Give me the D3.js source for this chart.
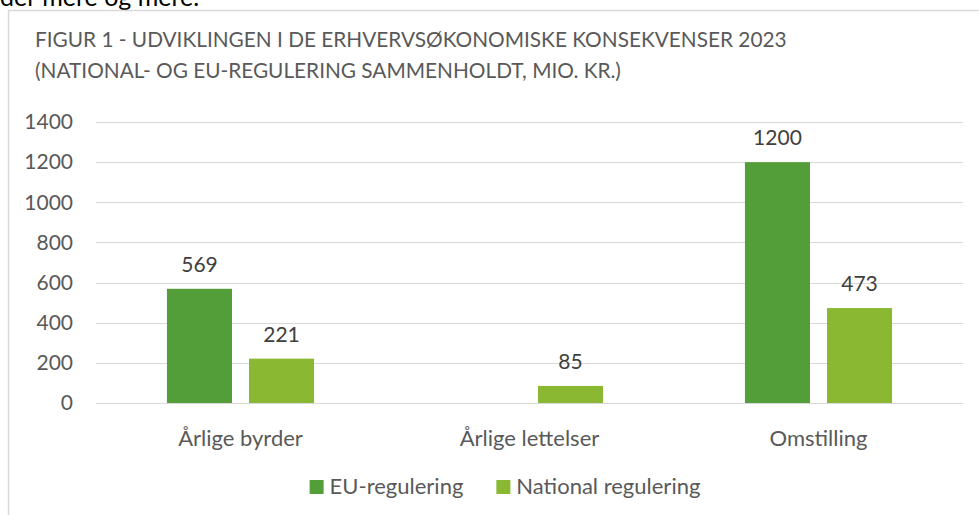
<!DOCTYPE html>
<html>
<head>
<meta charset="utf-8">
<script src="https://cdn.jsdelivr.net/npm/d3@7"></script>
<style>
  body { margin: 0; background: #fff; }
  svg { display: block; font-family: Lato, "Open Sans", sans-serif; }
</style>
</head>
<body>
<svg id="chart"></svg>
<script>
// values (mio. kr.)
var categories = ["Årlige byrder", "Årlige lettelser", "Omstilling"];
var seriesNames = ["EU-regulering", "National regulering"];
var euValues = [569, null, 1200];
var nationalValues = [221, 85, 473];
var yTicks = [0, 200, 400, 600, 800, 1000, 1200, 1400];
var titleLines = [
  "FIGUR 1 - UDVIKLINGEN I DE ERHVERVSØKONOMISKE KONSEKVENSER 2023",
  "(NATIONAL- OG EU-REGULERING SAMMENHOLDT, MIO. KR.)"
];
var colors = ["#549e39", "#8ab833"];

var W = 979, H = 515;
var margin = {top: 122, right: 16, bottom: 112, left: 96};
var width = W - margin.left - margin.right,
    height = H - margin.top - margin.bottom;

var svg = d3.select("#chart").attr("width", W).attr("height", H);

// leftover body text from the page above the figure
svg.append("text")
  .attr("x", 0).attr("y", 6)
  .attr("font-size", 25).attr("fill", "#000")
  .text("der mere og mere.");

// figure frame
svg.append("path")
  .attr("d", "M8.5," + H + "V10.5H" + W)
  .attr("fill", "none").attr("stroke", "#d9d9d9").attr("stroke-width", 1.5);

svg.selectAll(".title").data(titleLines).enter().append("text")
  .attr("class", "title")
  .attr("x", 35).attr("y", function (d, i) { return 47 + i * 31; })
  .attr("font-size", 20.8).attr("fill", "#595959")
  .text(function (d) { return d; });

var g = svg.append("g").attr("transform", "translate(" + margin.left + "," + margin.top + ")");

var x0 = d3.scaleBand().domain(categories).range([0, width])
  .paddingInner(0.491).paddingOuter(0.2455);
var x1 = d3.scaleBand().domain(seriesNames).range([0, x0.bandwidth()])
  .paddingInner(0.207);
var y = d3.scaleLinear().domain([0, 1400]).range([height, 0]);

// gridlines
g.selectAll(".grid").data(yTicks).enter().append("line")
  .attr("x1", 0).attr("x2", width)
  .attr("y1", function (d) { return Math.round(y(d)) + 0.5; })
  .attr("y2", function (d) { return Math.round(y(d)) + 0.5; })
  .attr("stroke", "#d9d9d9").attr("stroke-width", 1.2);

// y axis labels
var yAxis = g.append("g")
  .call(d3.axisLeft(y).tickValues(yTicks).tickFormat(d3.format("d")).tickSize(0).tickPadding(23));
yAxis.select(".domain").remove();
yAxis.selectAll("text").attr("font-size", 21).attr("fill", "#595959")
  .attr("font-family", "Lato, sans-serif");

// x axis labels
var xAxis = g.append("g").attr("transform", "translate(0," + height + ")")
  .call(d3.axisBottom(x0).tickSize(0).tickPadding(27));
xAxis.select(".domain").remove();
xAxis.selectAll("text").attr("font-size", 22).attr("fill", "#595959")
  .attr("font-family", "Lato, sans-serif");

var rows = [];
categories.forEach(function (c, i) {
  rows.push({cat: c, s: seriesNames[0], v: euValues[i], k: 0});
  rows.push({cat: c, s: seriesNames[1], v: nationalValues[i], k: 1});
});
rows = rows.filter(function (d) { return d.v != null; });

g.selectAll(".bar").data(rows).enter().append("rect")
  .attr("class", "bar")
  .attr("x", function (d) { return x0(d.cat) + x1(d.s); })
  .attr("y", function (d) { return y(d.v); })
  .attr("width", x1.bandwidth())
  .attr("height", function (d) { return height - y(d.v); })
  .attr("fill", function (d) { return colors[d.k]; });

g.selectAll(".lbl").data(rows).enter().append("text")
  .attr("class", "lbl")
  .attr("x", function (d) { return x0(d.cat) + x1(d.s) + x1.bandwidth() / 2; })
  .attr("y", function (d) { return y(d.v) - 17; })
  .attr("text-anchor", "middle")
  .attr("font-size", 21).attr("fill", "#404040")
  .text(function (d) { return d.v; });

// legend, centred under the plot
var legend = svg.append("g");
var lx = 0;
seriesNames.forEach(function (s, i) {
  var it = legend.append("g").attr("transform", "translate(" + lx + ",0)");
  it.append("rect").attr("x", 0).attr("y", 480).attr("width", 14).attr("height", 14)
    .attr("fill", colors[i]);
  var t = it.append("text").attr("x", 20).attr("y", 494)
    .attr("font-size", 22).attr("fill", "#595959").text(s);
  lx += 20 + t.node().getComputedTextLength() + 33;
});
var lw = lx - 33;
legend.attr("transform", "translate(" + (505 - lw / 2) + ",0)");
</script>
</body>
</html>
